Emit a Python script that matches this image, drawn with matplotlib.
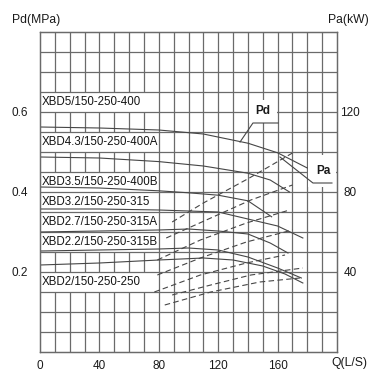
## Curvas caracteristicas XBD 150-250 (Pd y Pa contra Q)
import matplotlib.pyplot as plt
from matplotlib.patches import Rectangle

plt.rcParams['font.family'] = ['Liberation Sans', 'DejaVu Sans']

## Etiquetas de modelos
modelos = ['XBD5/150-250-400', 'XBD4.3/150-250-400A', 'XBD3.5/150-250-400B',
           'XBD3.2/150-250-315', 'XBD2.7/150-250-315A', 'XBD2.2/150-250-315B',
           'XBD2/150-250-250']

## Curvas Pd (Q en L/s, Pd en MPa)
q_pd_400 = [0, 40, 80, 110, 140, 160, 180]
pd_400 = [0.5625, 0.560, 0.555, 0.545, 0.522, 0.498, 0.460]
q_pd_400a = [0, 40, 80, 110, 140, 155, 168]
pd_400a = [0.4875, 0.485, 0.476, 0.465, 0.447, 0.430, 0.400]
q_pd_400b = [0, 40, 80, 100, 120, 140, 156]
pd_400b = [0.4125, 0.410, 0.403, 0.398, 0.392, 0.378, 0.338]
q_pd_315 = [0, 40, 80, 100, 120, 140, 160, 177]
pd_315 = [0.3575, 0.3575, 0.355, 0.3525, 0.350, 0.3325, 0.315, 0.285]
q_pd_315a = [0, 40, 80, 100, 120, 140, 155, 167]
pd_315a = [0.300, 0.3025, 0.305, 0.3075, 0.3025, 0.295, 0.2725, 0.2475]
q_pd_315b = [0, 40, 80, 100, 120, 140, 160, 176]
pd_315b = [0.2525, 0.255, 0.2575, 0.260, 0.255, 0.2375, 0.210, 0.185]
q_pd_250 = [0, 40, 80, 110, 130, 150, 165, 177]
pd_250 = [0.2175, 0.2225, 0.230, 0.235, 0.230, 0.215, 0.195, 0.1725]

## Curvas Pa (Q en L/s, Pa en kW)
q_pa_400 = [89, 110, 141, 170]
pa_400 = [65, 74.5, 87, 99.5]
q_pa_400a = [85, 115, 142, 170]
pa_400a = [57, 67, 76, 83.5]
q_pa_400b = [79, 108, 139, 168]
pa_400b = [46, 56, 64.5, 71]
q_pa_315 = [79, 108, 139, 170]
pa_315 = [38.5, 47, 55, 61]
q_pa_315a = [77, 108, 139, 165]
pa_315a = [30, 38.5, 44.5, 48.5]
q_pa_315b = [89, 115, 142, 177]
pa_315b = [28.5, 33.5, 38.5, 42]
q_pa_250 = [84, 115, 148, 175]
pa_250 = [23.5, 30, 35, 37]

curvas_pd = [(q_pd_400, pd_400), (q_pd_400a, pd_400a), (q_pd_400b, pd_400b),
             (q_pd_315, pd_315), (q_pd_315a, pd_315a), (q_pd_315b, pd_315b),
             (q_pd_250, pd_250)]
curvas_pa = [(q_pa_400, pa_400), (q_pa_400a, pa_400a), (q_pa_400b, pa_400b),
             (q_pa_315, pa_315), (q_pa_315a, pa_315a), (q_pa_315b, pa_315b),
             (q_pa_250, pa_250)]

## Figura
fig = plt.figure(figsize=(3.8, 3.84), dpi=100)
ax = fig.add_axes([40/380, 32/384, 297/380, 320/384])
ax.set_xlim(0, 200)
ax.set_ylim(0, 0.8)
ax2 = ax.twinx()
ax2.set_ylim(0, 160)

gris = '#6a6a6a'
linea = '#464646'

# reticula: verticales debajo de los cuadros, horizontales encima
for q in range(10, 200, 10):
    ax.axvline(q, color=gris, lw=0.9, zorder=1)
for k in range(1, 16):
    ax.axhline(k*0.05, color=gris, lw=0.9, zorder=3)

# cuadros blancos de las etiquetas
filas = [0.60, 0.50, 0.40, 0.35, 0.30, 0.25, 0.15]
for nombre, f in zip(modelos, filas):
    ax.add_patch(Rectangle((0, f), 79.5, 0.05, fc='white', ec='none', zorder=2))
    ax.text(1.2, f + 0.026, nombre, fontsize=8.3, color='#141414',
            va='center', ha='left', zorder=6)

# curvas Pd
for q, p in curvas_pd:
    ax.plot(q, p, color=linea, lw=0.8, zorder=4)

# curvas Pa
for q, p in curvas_pa:
    ax2.plot(q, p, color=linea, lw=0.8, ls=(0, (5, 3)), zorder=4)

# llamadas Pd y Pa
ax.add_patch(Rectangle((140.6, 0.5725), 18.8, 0.0575, fc='white', ec='none', zorder=3.5))
ax.text(150, 0.602, 'Pd', fontsize=8.5, weight='bold', color='#1a1a1a',
        ha='center', va='center', zorder=6)
ax.plot([160.3, 143.4, 134.7], [0.5725, 0.5725, 0.525], color=linea, lw=0.8, zorder=5)

ax.add_patch(Rectangle((180.6, 0.4125), 18.9, 0.08, fc='white', ec='none', zorder=3.5))
ax.text(190.6, 0.452, 'Pa', fontsize=8.5, weight='bold', color='#1a1a1a',
        ha='center', va='center', zorder=6)
ax.plot([196.6, 183.8, 161.6], [0.4225, 0.4225, 0.4875], color=linea, lw=0.8, zorder=5)

# ejes y marcas
ax.set_xticks([0, 40, 80, 120, 160])
ax.set_yticks([0.2, 0.4, 0.6])
ax.set_yticklabels(['0.2', '0.4', '0.6'])
ax.tick_params(length=0, labelsize=8.5, colors='#1a1a1a')
ax.tick_params(axis='x', pad=6)
ax.tick_params(axis='y', pad=8.5)
ax2.set_yticks([40, 80, 120])
ax2.tick_params(length=0, labelsize=8.5, colors='#1a1a1a', pad=9.4)
for t in ax2.get_yticklabels():
    t.set_ha('center')
for a in (ax, ax2):
    for s in a.spines.values():
        s.set_color(gris)
        s.set_linewidth(0.9)

fig.text(12/380, 1 - 20/384, 'Pd(MPa)', fontsize=8.7, color='#1a1a1a', va='center', ha='left')
fig.text(369/380, 1 - 20/384, 'Pa(kW)', fontsize=8.7, color='#1a1a1a', va='center', ha='right')
fig.text(367/380, 1 - 363/384, 'Q(L/S)', fontsize=8.7, color='#1a1a1a', va='center', ha='right')

fig.savefig('out.png', dpi=100)
